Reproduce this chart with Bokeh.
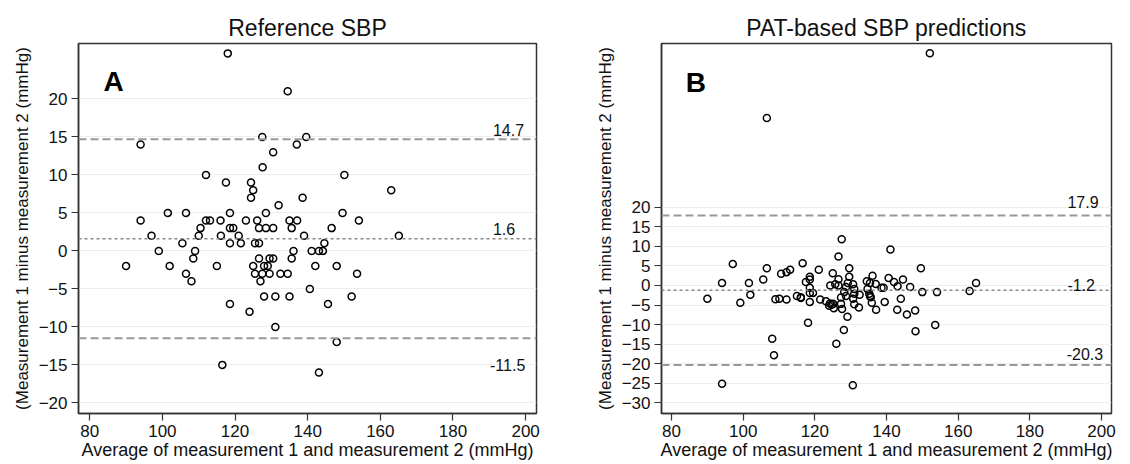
from bokeh.plotting import figure
from bokeh.layouts import row
from bokeh.models import Span, Label, FixedTicker
from bokeh.embed import file_html
from bokeh.resources import INLINE

# ---- data ----
x_ticks = [80, 100, 120, 140, 160, 180, 200]
a_y_ticks = [-20, -15, -10, -5, 0, 5, 10, 15, 20]
b_y_ticks = [-30, -25, -20, -15, -10, -5, 0, 5, 10, 15, 20]

a_avg = [118.0, 134.5, 94.0, 127.5, 139.6, 137.0, 130.5, 127.6, 112.0, 150.1,
         117.5, 124.4, 125.0, 163.0, 124.4, 138.6, 132.0, 101.5, 106.5, 118.6,
         128.5, 149.6, 94.0, 112.0, 113.1, 116.0, 123.0, 126.1, 135.0, 137.1,
         154.1, 110.5, 118.6, 119.5, 126.6, 128.5, 130.5, 135.6, 146.6, 97.0,
         110.0, 116.1, 121.0, 139.0, 165.1, 105.5, 118.6, 121.6, 125.5, 126.6,
         144.6, 99.0, 109.0, 136.1, 141.1, 143.1, 144.2, 108.5, 126.6, 129.5,
         130.5, 135.6, 90.0, 102.0, 115.0, 125.0, 128.0, 129.0, 142.1, 148.0,
         106.5, 125.5, 127.5, 129.5, 132.5, 134.5, 153.6, 108.0, 127.0, 128.0,
         131.1, 135.0, 152.1, 140.6, 118.6, 145.6, 124.0, 131.1, 148.0, 116.5,
         143.1]
a_diff = [26, 21, 14, 15, 15, 14, 13, 11, 10, 10,
          9, 9, 8, 8, 7, 7, 6, 5, 5, 5,
          5, 5, 4, 4, 4, 4, 4, 4, 4, 4,
          4, 3, 3, 3, 3, 3, 3, 3, 3, 2,
          2, 2, 2, 2, 2, 1, 1, 1, 1, 1,
          1, 0, 0, 0, 0, 0, 0, -1, -1, -1,
          -1, -1, -2, -2, -2, -2, -2, -2, -2, -2,
          -3, -3, -3, -3, -3, -3, -3, -4, -4, -6,
          -6, -6, -6, -5, -7, -7, -8, -10, -12, -15,
          -16]
a_limits = [14.7, 1.6, -11.5]

b_avg = [152.1, 106.6, 127.5, 141.1, 126.6, 97.1, 116.6, 106.6, 129.6, 149.6,
         113.1, 121.1, 112.1, 110.6, 125.0, 136.1, 118.6, 129.6, 105.6, 118.6,
         126.6, 140.6, 144.6, 134.5, 117.5, 142.1, 94.1, 101.6, 165.0, 135.4,
         137.0, 129.2, 130.7, 125.7, 124.3, 126.6, 143.1, 128.7, 118.6, 146.6,
         138.6, 139.2, 131.0, 134.7, 163.2, 128.2, 150.0, 154.1, 131.0, 118.6,
         119.5, 135.2, 102.0, 132.5, 128.7, 115.0, 135.4, 116.1, 116.1, 135.6,
         90.0, 109.0, 110.1, 112.1, 127.3, 121.5, 130.7, 144.0, 123.1, 118.6,
         135.9, 139.5, 99.2, 124.2, 127.3, 125.1, 124.0, 124.7, 131.0, 125.3,
         132.3, 127.6, 137.1, 143.0, 148.0, 145.7, 129.1, 118.1, 153.6, 128.1,
         148.1, 108.1, 126.0, 108.6, 94.1, 130.6]
b_diff = [59.3, 42.8, 11.8, 9.2, 7.4, 5.5, 5.7, 4.4, 4.4, 4.4,
          4.0, 4.0, 3.4, 3.0, 3.1, 2.5, 2.2, 2.2, 1.5, 1.5,
          1.6, 1.9, 1.5, 1.1, 0.9, 0.9, 0.6, 0.6, 0.6, 0.6,
          0.4, 0.6, 0.3, 0.3, 0.0, 0.0, -0.2, -0.4, -0.6, -0.4,
          -0.6, -0.6, -0.9, -0.9, -1.4, -1.7, -1.7, -1.7, -2.1, -1.9,
          -1.9, -2.1, -2.4, -2.4, -2.7, -2.7, -2.7, -3.0, -3.2, -3.0,
          -3.4, -3.5, -3.4, -3.6, -3.1, -3.6, -3.4, -3.4, -4.0, -4.2,
          -4.4, -4.2, -4.4, -4.6, -4.7, -4.7, -5.2, -4.9, -4.8, -5.8,
          -5.6, -6.0, -6.2, -6.2, -6.4, -7.4, -8.0, -9.5, -10.1, -11.4,
          -11.7, -13.6, -14.9, -17.8, -25.1, -25.5]
b_limits = [17.9, -1.2, -20.3]

titles = ["Reference SBP", "PAT-based SBP predictions"]
panel_letters = ["A", "B"]
x_label = "Average of measurement 1 and measurement 2 (mmHg)"
y_label = "(Measurement 1 minus measurement 2 (mmHg)"

FONT = "Liberation Sans"


def make_panel(title, letter, xs, ys, limits, yticks, width, border_left,
               border_right, x_range, y_range, letter_pos, label_offsets,
               label_x):
    p = figure(width=width, height=464, x_range=x_range, y_range=y_range,
               output_backend="svg", toolbar_location=None,
               min_border_left=border_left, min_border_right=border_right,
               min_border_top=43, min_border_bottom=51)
    p.title.text = title
    p.title.align = "center"
    p.title.text_font = FONT
    p.title.text_font_size = "23px"
    p.title.text_font_style = "normal"
    p.title.text_color = "#111111"
    p.title.standoff = 6

    p.outline_line_color = "#333333"
    p.outline_line_width = 1.5
    p.outline_line_alpha = 1.0

    p.xgrid.visible = False
    p.ygrid.grid_line_color = "#eeeeee"
    p.ygrid.grid_line_width = 1

    p.xaxis.ticker = FixedTicker(ticks=x_ticks)
    p.yaxis.ticker = FixedTicker(ticks=yticks)
    for ax in (p.xaxis[0], p.yaxis[0]):
        ax.axis_line_color = "#333333"
        ax.axis_line_width = 1.5
        ax.major_tick_line_color = "#333333"
        ax.major_tick_line_width = 1.2
        ax.major_tick_in = 0
        ax.major_tick_out = 7
        ax.minor_tick_line_color = None
        ax.major_label_text_font = FONT
        ax.major_label_text_font_size = "17px"
        ax.major_label_text_color = "#111111"
        ax.major_label_standoff = 4
        ax.axis_label_text_font = FONT
        ax.axis_label_text_font_style = "normal"
        ax.axis_label_text_color = "#111111"
    p.xaxis.axis_label = x_label
    p.xaxis.axis_label_text_font_size = "18px"
    p.xaxis.axis_label_standoff = 0
    p.yaxis.axis_label = y_label
    p.yaxis.axis_label_text_font_size = "17px"
    p.yaxis.axis_label_standoff = 4

    dashes = ["8 4", "3 3", "8 4"]
    colors = ["#999999", "#888888", "#999999"]
    widths = [2, 1.5, 2]
    for v, d, c, w in zip(limits, dashes, colors, widths):
        p.add_layout(Span(location=v, dimension="width", line_color=c,
                          line_dash=d, line_width=w))

    p.scatter(xs, ys, marker="circle", size=7, fill_color=None,
              line_color="black", line_width=1.5)

    for v, off, lx in zip(limits, label_offsets, label_x):
        p.add_layout(Label(x=lx, y=v, y_offset=off, text=f"{v:.1f}",
                           text_font=FONT, text_font_size="16px",
                           text_color="#111111", text_baseline="alphabetic"))

    p.add_layout(Label(x=letter_pos[0], y=letter_pos[1], text=letter,
                       text_font=FONT, text_font_size="28px",
                       text_font_style="bold", text_color="black",
                       text_baseline="alphabetic"))
    return p


pa = make_panel(titles[0], panel_letters[0], a_avg, a_diff, a_limits,
                a_y_ticks, 560, 78, 24, (76.9, 203.0), (-21.4, 27.3),
                (83.8, 22.3), [9, 10, -27], [191.0, 191.0, 190.2])
pb = make_panel(titles[1], panel_letters[1], b_avg, b_diff, b_limits,
                b_y_ticks, 570, 101, 19, (77.2, 202.8), (-32.7, 61.8),
                (84.0, 51.8), [13, 5, 11], [190.5, 190.5, 190.3])

layout = row(pa, pb)
open("out.html", "w").write(file_html(layout, INLINE))
